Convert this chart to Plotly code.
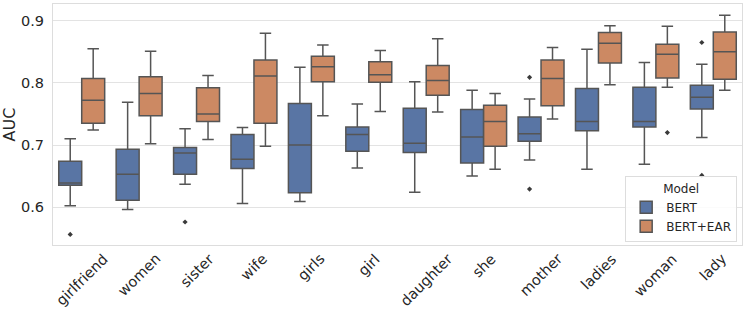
import plotly.graph_objects as go

categories = ["girlfriend", "women", "sister", "wife", "girls", "girl",
              "daughter", "she", "mother", "ladies", "woman", "lady"]

# BERT box statistics
bert_low = [0.602, 0.596, 0.637, 0.606, 0.609, 0.663, 0.624, 0.650, 0.676, 0.661, 0.669, 0.712]
bert_q1 = [0.635, 0.611, 0.653, 0.662, 0.623, 0.690, 0.688, 0.671, 0.706, 0.723, 0.729, 0.758]
bert_med = [0.639, 0.653, 0.687, 0.677, 0.700, 0.717, 0.703, 0.713, 0.718, 0.738, 0.738, 0.777]
bert_q3 = [0.674, 0.693, 0.696, 0.717, 0.767, 0.729, 0.759, 0.757, 0.745, 0.791, 0.793, 0.796]
bert_high = [0.710, 0.769, 0.726, 0.728, 0.825, 0.766, 0.802, 0.788, 0.774, 0.854, 0.833, 0.830]

# BERT+EAR box statistics
ear_low = [0.724, 0.702, 0.709, 0.698, 0.747, 0.754, 0.753, 0.661, 0.742, 0.797, 0.793, 0.788]
ear_q1 = [0.735, 0.747, 0.738, 0.735, 0.802, 0.801, 0.780, 0.698, 0.763, 0.832, 0.808, 0.806]
ear_med = [0.772, 0.783, 0.750, 0.811, 0.826, 0.813, 0.804, 0.738, 0.807, 0.864, 0.846, 0.850]
ear_q3 = [0.807, 0.810, 0.792, 0.837, 0.843, 0.834, 0.828, 0.764, 0.837, 0.881, 0.862, 0.882]
ear_high = [0.855, 0.851, 0.812, 0.880, 0.861, 0.852, 0.871, 0.783, 0.857, 0.892, 0.891, 0.909]

# Outliers
bert_out_cat = ["girlfriend", "sister", "mother", "mother", "lady", "lady"]
bert_out_val = [0.556, 0.576, 0.809, 0.629, 0.865, 0.651]
ear_out_cat = ["woman"]
ear_out_val = [0.720]

BLUE = "#5975a4"
ORANGE = "#cc8963"
LINE = "#555555"
OFFSET = 0.2
BOXW = 0.4

idx = {c: i for i, c in enumerate(categories)}

fig = go.Figure()
series = [
    ("BERT", BLUE, -OFFSET, bert_low, bert_q1, bert_med, bert_q3, bert_high, bert_out_cat, bert_out_val),
    ("BERT+EAR", ORANGE, OFFSET, ear_low, ear_q1, ear_med, ear_q3, ear_high, ear_out_cat, ear_out_val),
]
for name, color, off, lo, q1, med, q3, hi, oc, ov in series:
    fig.add_trace(go.Box(
        name=name,
        x=[i + off for i in range(len(categories))],
        lowerfence=lo, q1=q1, median=med, q3=q3, upperfence=hi,
        width=BOXW, whiskerwidth=0.5,
        fillcolor=color, line=dict(color=LINE, width=1.5),
        boxpoints=False, hoverinfo="skip",
    ))
for name, color, off, lo, q1, med, q3, hi, oc, ov in series:
    fig.add_trace(go.Scatter(
        x=[idx[c] + off for c in oc], y=ov, mode="markers",
        marker=dict(symbol="diamond", size=4, color="#3a3a3a"),
        showlegend=False, hoverinfo="skip",
    ))

# Category labels, rotated 45 degrees and centred under each category
for i, c in enumerate(categories):
    fig.add_annotation(
        x=i, xref="x", y=0, yref="paper", yshift=-3,
        text=c, textangle=-45, showarrow=False,
        xanchor="center", yanchor="top",
        font=dict(size=14.5, color="#262626", family="DejaVu Sans"),
    )

fig.update_layout(
    width=748, height=316,
    margin=dict(l=53, r=6, t=4, b=71),
    plot_bgcolor="white", paper_bgcolor="white",
    font=dict(family="DejaVu Sans", size=14.5, color="#262626"),
    boxmode="overlay",
    legend=dict(
        title=dict(text="Model", side="top center", font=dict(size=12)),
        font=dict(size=12),
        x=0.993, xanchor="right", y=0.012, yanchor="bottom",
        bgcolor="rgba(255,255,255,0.85)", bordercolor="#dddddd", borderwidth=1,
        itemwidth=30, tracegroupgap=0,
    ),
)
fig.update_xaxes(
    range=[-0.5, len(categories) - 0.5],
    tickvals=list(range(len(categories))), showticklabels=False,
    showgrid=False, zeroline=False,
    showline=True, mirror=True, linecolor="#dddddd", linewidth=1,
    ticks="",
)
fig.update_yaxes(
    range=[0.539, 0.927],
    tickvals=[0.6, 0.7, 0.8, 0.9], ticktext=["0.6", "0.7", "0.8", "0.9"],
    showgrid=True, gridcolor="#e3e3e3", gridwidth=1, zeroline=False,
    showline=True, mirror=True, linecolor="#dddddd", linewidth=1,
    ticks="", tickfont=dict(size=14.5), ticklabelstandoff=5,
    title=dict(text="AUC", font=dict(size=16), standoff=6),
)

fig.write_html("out.html", config={"displayModeBar": False},
               post_script="document.body.style.margin='0';document.body.style.padding='0';")
